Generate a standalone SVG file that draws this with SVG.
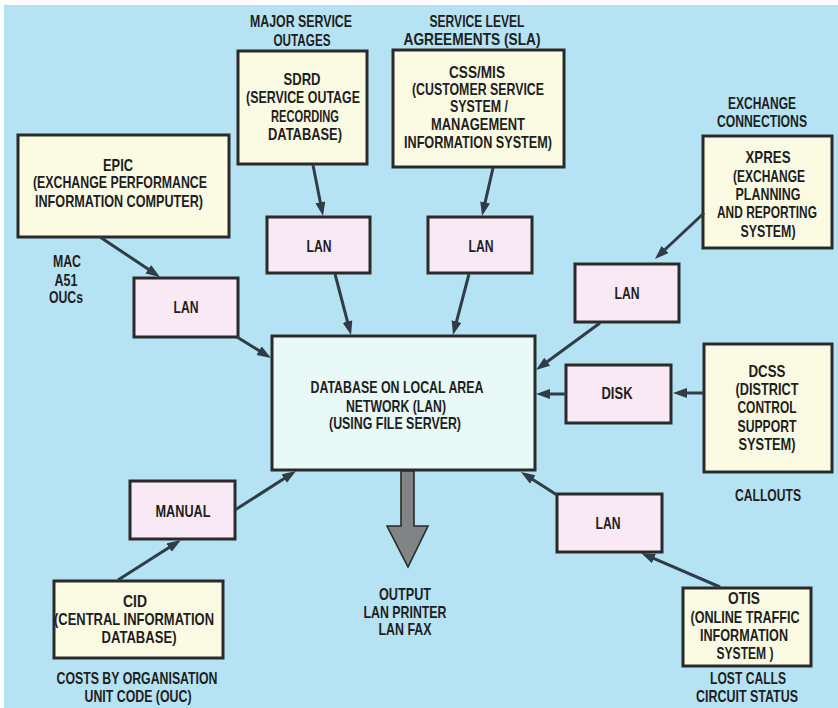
<svg xmlns="http://www.w3.org/2000/svg" width="838" height="708" viewBox="0 0 838 708">
  <style>
    .src { fill: #fbfbe4; stroke: #2a2a2a; stroke-width: 3; }
    .lan { fill: #f8e9f5; stroke: #2a2a2a; stroke-width: 3; }
    .db  { fill: #e9f9f8; stroke: #2a2a2a; stroke-width: 3; }
    .t { font-family: "Liberation Sans", Arial, sans-serif; font-weight: bold; font-size: 16.5px; fill: #1e1e1e; text-anchor: middle; }
    .link { stroke: #2e3d47; stroke-width: 3; fill: none; marker-end: url(#head); }
  </style>
  <defs>
    <marker id="head" markerUnits="userSpaceOnUse" markerWidth="15" markerHeight="11" refX="6" refY="5" orient="auto">
      <path d="M0,0 L14,5 L0,10 z" fill="#2e3d47"/>
    </marker>
  </defs>

  <!-- page background -->
  <rect x="0" y="0" width="838" height="708" fill="#ffffff"/>
  <rect x="4" y="5" width="834" height="703" fill="#b6e3f4"/>

  <!-- free-standing labels -->
  <g id="labels">
    <text class="t" x="301" y="27" textLength="102" lengthAdjust="spacingAndGlyphs">MAJOR SERVICE</text>
    <text class="t" x="302" y="46" textLength="57" lengthAdjust="spacingAndGlyphs">OUTAGES</text>
    <text class="t" x="477" y="27" textLength="95" lengthAdjust="spacingAndGlyphs">SERVICE LEVEL</text>
    <text class="t" x="472" y="45" textLength="137" lengthAdjust="spacingAndGlyphs">AGREEMENTS (SLA)</text>
    <text class="t" x="762" y="109" textLength="68" lengthAdjust="spacingAndGlyphs">EXCHANGE</text>
    <text class="t" x="762" y="127" textLength="90" lengthAdjust="spacingAndGlyphs">CONNECTIONS</text>
    <text class="t" x="67" y="267" textLength="28" lengthAdjust="spacingAndGlyphs">MAC</text>
    <text class="t" x="66" y="286" textLength="23" lengthAdjust="spacingAndGlyphs">A51</text>
    <text class="t" x="66" y="303" textLength="34" lengthAdjust="spacingAndGlyphs">OUCs</text>
    <text class="t" x="768" y="501" textLength="66" lengthAdjust="spacingAndGlyphs">CALLOUTS</text>
    <text class="t" x="405" y="600" textLength="52" lengthAdjust="spacingAndGlyphs">OUTPUT</text>
    <text class="t" x="405" y="618" textLength="83" lengthAdjust="spacingAndGlyphs">LAN PRINTER</text>
    <text class="t" x="405" y="635" textLength="53" lengthAdjust="spacingAndGlyphs">LAN FAX</text>
    <text class="t" x="137" y="684" textLength="161" lengthAdjust="spacingAndGlyphs">COSTS BY ORGANISATION</text>
    <text class="t" x="138" y="702" textLength="107" lengthAdjust="spacingAndGlyphs">UNIT CODE (OUC)</text>
    <text class="t" x="748" y="684" textLength="76" lengthAdjust="spacingAndGlyphs">LOST CALLS</text>
    <text class="t" x="747" y="702" textLength="102" lengthAdjust="spacingAndGlyphs">CIRCUIT STATUS</text>
  </g>

  <!-- source systems -->
  <g id="sdrd">
    <rect class="src" x="238" y="51" width="129" height="113"/>
    <text class="t" x="302" y="85" textLength="37" lengthAdjust="spacingAndGlyphs">SDRD</text>
    <text class="t" x="303" y="103" textLength="114" lengthAdjust="spacingAndGlyphs">(SERVICE OUTAGE</text>
    <text class="t" x="305" y="122" textLength="68" lengthAdjust="spacingAndGlyphs">RECORDING</text>
    <text class="t" x="305" y="140" textLength="74" lengthAdjust="spacingAndGlyphs">DATABASE)</text>
  </g>
  <g id="epic">
    <rect class="src" x="18" y="135" width="211" height="102"/>
    <text class="t" x="118" y="171" textLength="30" lengthAdjust="spacingAndGlyphs">EPIC</text>
    <text class="t" x="120" y="188" textLength="174" lengthAdjust="spacingAndGlyphs">(EXCHANGE PERFORMANCE</text>
    <text class="t" x="119" y="207" textLength="168" lengthAdjust="spacingAndGlyphs">INFORMATION COMPUTER)</text>
  </g>
  <g id="css-mis">
    <rect class="src" x="393" y="50" width="171" height="117"/>
    <text class="t" x="477" y="78" textLength="56" lengthAdjust="spacingAndGlyphs">CSS/MIS</text>
    <text class="t" x="478" y="95" textLength="132" lengthAdjust="spacingAndGlyphs">(CUSTOMER SERVICE</text>
    <text class="t" x="479" y="112" textLength="58" lengthAdjust="spacingAndGlyphs">SYSTEM /</text>
    <text class="t" x="478" y="130" textLength="94" lengthAdjust="spacingAndGlyphs">MANAGEMENT</text>
    <text class="t" x="478" y="148" textLength="148" lengthAdjust="spacingAndGlyphs">INFORMATION SYSTEM)</text>
  </g>
  <g id="xpres">
    <rect class="src" x="703" y="136" width="129" height="112"/>
    <text class="t" x="768" y="163" textLength="45" lengthAdjust="spacingAndGlyphs">XPRES</text>
    <text class="t" x="769" y="182" textLength="72" lengthAdjust="spacingAndGlyphs">(EXCHANGE</text>
    <text class="t" x="768" y="200" textLength="65" lengthAdjust="spacingAndGlyphs">PLANNING</text>
    <text class="t" x="767" y="218" textLength="100" lengthAdjust="spacingAndGlyphs">AND REPORTING</text>
    <text class="t" x="768" y="237" textLength="55" lengthAdjust="spacingAndGlyphs">SYSTEM)</text>
  </g>
  <g id="dcss">
    <rect class="src" x="704" y="344" width="128" height="128"/>
    <text class="t" x="767" y="377" textLength="37" lengthAdjust="spacingAndGlyphs">DCSS</text>
    <text class="t" x="767" y="395" textLength="63" lengthAdjust="spacingAndGlyphs">(DISTRICT</text>
    <text class="t" x="767" y="413" textLength="59" lengthAdjust="spacingAndGlyphs">CONTROL</text>
    <text class="t" x="767" y="432" textLength="59" lengthAdjust="spacingAndGlyphs">SUPPORT</text>
    <text class="t" x="767" y="450" textLength="57" lengthAdjust="spacingAndGlyphs">SYSTEM)</text>
  </g>
  <g id="otis">
    <rect class="src" x="683" y="588" width="128" height="78"/>
    <text class="t" x="744" y="604" textLength="32" lengthAdjust="spacingAndGlyphs">OTIS</text>
    <text class="t" x="745" y="623" textLength="109" lengthAdjust="spacingAndGlyphs">(ONLINE TRAFFIC</text>
    <text class="t" x="744" y="641" textLength="88" lengthAdjust="spacingAndGlyphs">INFORMATION</text>
    <text class="t" x="745" y="659" textLength="57" lengthAdjust="spacingAndGlyphs">SYSTEM )</text>
  </g>
  <g id="cid">
    <rect class="src" x="54" y="581" width="169" height="77"/>
    <text class="t" x="135" y="607" textLength="24" lengthAdjust="spacingAndGlyphs">CID</text>
    <text class="t" x="134" y="625" textLength="160" lengthAdjust="spacingAndGlyphs">(CENTRAL INFORMATION</text>
    <text class="t" x="139" y="643" textLength="75" lengthAdjust="spacingAndGlyphs">DATABASE)</text>
  </g>

  <!-- transfer media -->
  <g id="lan-sdrd">
    <rect class="lan" x="267" y="217" width="103" height="56"/>
    <text class="t" x="319" y="252" textLength="25" lengthAdjust="spacingAndGlyphs">LAN</text>
  </g>
  <g id="lan-css">
    <rect class="lan" x="428" y="217" width="104" height="56"/>
    <text class="t" x="481" y="252" textLength="25" lengthAdjust="spacingAndGlyphs">LAN</text>
  </g>
  <g id="lan-epic">
    <rect class="lan" x="134" y="278" width="104" height="59"/>
    <text class="t" x="186" y="313" textLength="25" lengthAdjust="spacingAndGlyphs">LAN</text>
  </g>
  <g id="lan-xpres">
    <rect class="lan" x="575" y="264" width="104" height="58"/>
    <text class="t" x="627" y="299" textLength="25" lengthAdjust="spacingAndGlyphs">LAN</text>
  </g>
  <g id="lan-otis">
    <rect class="lan" x="557" y="494" width="105" height="58"/>
    <text class="t" x="608" y="529" textLength="25" lengthAdjust="spacingAndGlyphs">LAN</text>
  </g>
  <g id="disk">
    <rect class="lan" x="566" y="365" width="105" height="58"/>
    <text class="t" x="617" y="399" textLength="31" lengthAdjust="spacingAndGlyphs">DISK</text>
  </g>
  <g id="manual">
    <rect class="lan" x="130" y="481" width="105" height="58"/>
    <text class="t" x="183" y="517" textLength="55" lengthAdjust="spacingAndGlyphs">MANUAL</text>
  </g>

  <!-- central database -->
  <g id="database">
    <rect class="db" x="272" y="336" width="263" height="134"/>
    <text class="t" x="397" y="393" textLength="173" lengthAdjust="spacingAndGlyphs">DATABASE  ON LOCAL AREA</text>
    <text class="t" x="396" y="412" textLength="100" lengthAdjust="spacingAndGlyphs">NETWORK (LAN)</text>
    <text class="t" x="395" y="429" textLength="132" lengthAdjust="spacingAndGlyphs">(USING FILE SERVER)</text>
  </g>

  <!-- data flows -->
  <g id="connectors">
    <line class="link" x1="313" y1="165" x2="321.5" y2="208.2"/>
    <line class="link" x1="493" y1="168" x2="483.8" y2="208.2"/>
    <line class="link" x1="100" y1="237" x2="153.3" y2="272.6"/>
    <line class="link" x1="335" y1="274" x2="349" y2="327.3"/>
    <line class="link" x1="469" y1="274" x2="455" y2="327.3"/>
    <line class="link" x1="237" y1="337" x2="264.2" y2="353.8"/>
    <line class="link" x1="704" y1="213" x2="660.8" y2="253.5"/>
    <line class="link" x1="600" y1="323" x2="542.4" y2="365.3"/>
    <line class="link" x1="566" y1="394" x2="544" y2="394"/>
    <line class="link" x1="703" y1="393" x2="681" y2="393"/>
    <line class="link" x1="557" y1="495" x2="527.7" y2="476.3"/>
    <line class="link" x1="720" y1="587" x2="648.4" y2="556.2"/>
    <line class="link" x1="118" y1="580" x2="174.2" y2="544.3"/>
    <line class="link" x1="235" y1="510" x2="289.3" y2="475.3"/>
    <!-- output arrow -->
    <polygon points="401,471 414,471 414,526 428,526 408,567 387,526 401,526" fill="#818385" stroke="#2a2a2a" stroke-width="1.6" stroke-linejoin="miter"/>
  </g>
</svg>
